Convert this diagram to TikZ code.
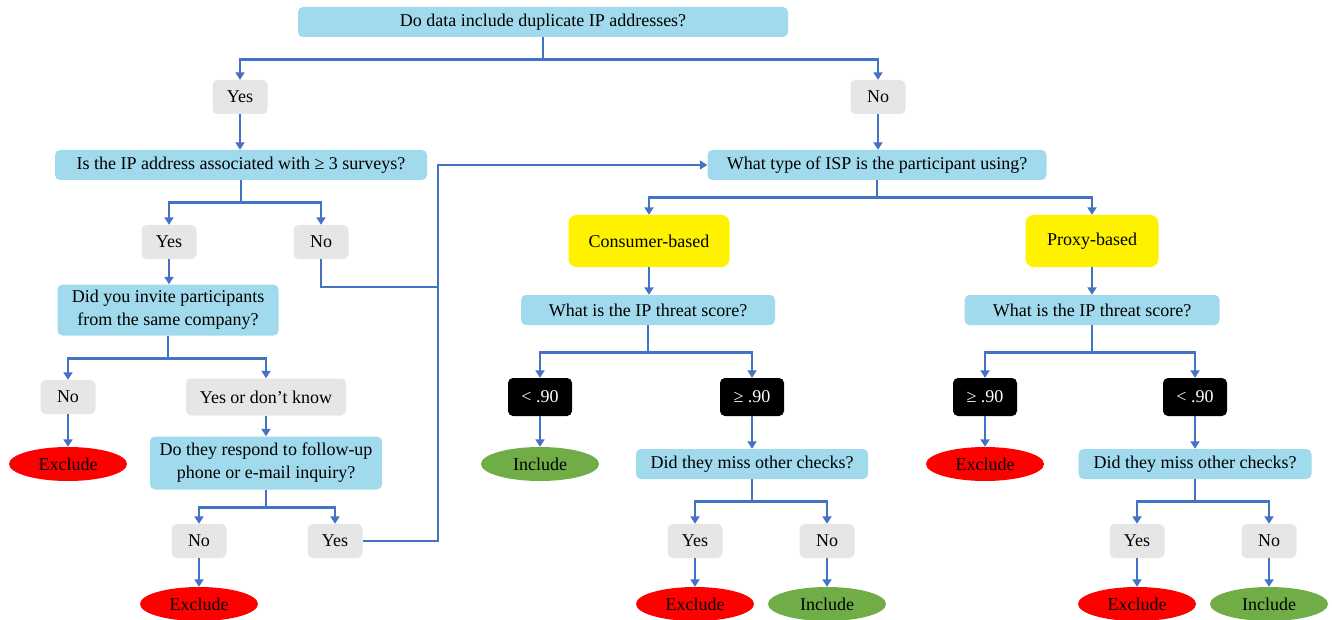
\documentclass[tikz,border=0pt]{standalone}
\usepackage{fontspec}
\setmainfont{Liberation Serif}
\usepackage{xcolor}
\usepackage{tikz}
\usetikzlibrary{arrows.meta,shapes.geometric}
\definecolor{qblue}{RGB}{160,218,236}
\definecolor{ansgray}{RGB}{231,230,230}
\definecolor{linkblue}{RGB}{68,114,196}
\definecolor{inclgreen}{RGB}{112,173,71}
\begin{document}
\begin{tikzpicture}[x=1pt,y=-1pt,
  font=\fontsize{18}{23}\selectfont,
  qbox/.style={fill=qblue, rounded corners=5pt, minimum height=30pt, inner sep=2pt, align=center},
  ans/.style={fill=ansgray, rounded corners=5pt, minimum width=55pt, minimum height=34pt, inner sep=2pt},
  isptype/.style={fill=yellow, rounded corners=8pt, minimum height=52pt},
  score/.style={fill=black, text=white, rounded corners=5pt, minimum width=64pt, minimum height=38pt},
  excl/.style={ellipse, fill=red, minimum width=118pt, minimum height=34pt, inner sep=0pt},
  incl/.style={ellipse, fill=inclgreen, minimum width=118pt, minimum height=34pt, inner sep=0pt},
  line/.style={draw=linkblue, line width=2.7pt},
  link/.style={line, -{Triangle[length=7.5pt,width=9pt]}}]
  \useasboundingbox (0,0) rectangle (1332,620);
  % Duplicate IP check
  \node[qbox, minimum width=490pt] (q1) at (543,22) {Do data include duplicate IP addresses?};
  \node[ans] (y1) at (240,97) {Yes};
  \node[ans] (n1) at (878,97) {No};
  \node[qbox, minimum width=372pt] (q2) at (241,165) {Is the IP address associated with ≥ 3 surveys?};
  \node[qbox, minimum width=339pt] (isp) at (877,165) {What type of ISP is the participant using?};
  % Left branch
  \node[ans] (y2) at (169,242) {Yes};
  \node[ans] (n2) at (321,242) {No};
  \node[qbox, minimum width=221pt, minimum height=51pt] (q3) at (168,310) {Did you invite participants\\from the same company?};
  \node[ans] (n3) at (68,397) {No};
  \node[ans, minimum width=160pt, minimum height=37pt] (y3) at (266,397) {Yes or don’t know};
  \node[excl] (ex1) at (68,464) {Exclude};
  \node[qbox, minimum width=232pt, minimum height=53pt] (q4) at (266,463) {Do they respond to follow-up\\phone or e-mail inquiry?};
  \node[ans] (n4) at (199,541) {No};
  \node[ans] (y4) at (335,541) {Yes};
  \node[excl] (ex2) at (199,604) {Exclude};
  \coordinate (join) at (438,287);
  \coordinate (rail) at (438,541);
  % Consumer-based ISP
  \node[isptype, minimum width=161pt] (cons) at (649,241) {Consumer-based};
  \node[qbox, minimum width=254pt] (q5) at (648,310) {What is the IP threat score?};
  \node[score] (lo1) at (540,397) {< .90};
  \node[score] (hi1) at (752,397) {≥ .90};
  \node[incl] (in1) at (540,464) {Include};
  \node[qbox, minimum width=232pt] (q7) at (752,464) {Did they miss other checks?};
  \node[ans] (y5) at (695,541) {Yes};
  \node[ans] (n5) at (827,541) {No};
  \node[excl] (ex3) at (695,604) {Exclude};
  \node[incl] (in2) at (827,604) {Include};
  % Proxy-based ISP
  \node[isptype, minimum width=133pt] (prox) at (1092,241) {Proxy-based};
  \node[qbox, minimum width=255pt] (q6) at (1092,310) {What is the IP threat score?};
  \node[score] (hi2) at (985,397) {≥ .90};
  \node[score] (lo2) at (1195,397) {< .90};
  \node[excl] (ex4) at (985,464) {Exclude};
  \node[qbox, minimum width=233pt] (q8) at (1195,464) {Did they miss other checks?};
  \node[ans] (y6) at (1137,541) {Yes};
  \node[ans] (n6) at (1269,541) {No};
  \node[excl] (ex5) at (1137,604) {Exclude};
  \node[incl] (in3) at (1269,604) {Include};
  % Connectors
  \draw[link] (q1.south) -- ++(0,22) -| (y1.north);
  \draw[link] (q1.south) -- ++(0,22) -| (n1.north);
  \draw[link] (y1.south) -- (y1.south |- q2.north);
  \draw[link] (n1.south) -- (n1.south |- isp.north);
  \draw[link] (q2.south) -- ++(0,22) -| (y2.north);
  \draw[link] (q2.south) -- ++(0,22) -| (n2.north);
  \draw[link] (y2.south) -- (y2.south |- q3.north);
  \draw[line] (n2.south) |- (join);
  \draw[link] (q3.south) -- ++(0,23) -| (n3.north);
  \draw[link] (q3.south) -- ++(0,23) -| (y3.north);
  \draw[link] (n3.south) -- (ex1.north);
  \draw[link] (y3.south) -- (q4.north);
  \draw[link] (q4.south) -- ++(0,18) -| (n4.north);
  \draw[link] (q4.south) -- ++(0,18) -| (y4.north);
  \draw[link] (n4.south) -- (ex2.north);
  \draw[link] (y4.east) -- (rail) |- (isp.west);
  \draw[link] (isp.south) -- ++(0,17) -| (cons.north);
  \draw[link] (isp.south) -- ++(0,17) -| (prox.north);
  \draw[link] (cons.south) -- (cons.south |- q5.north);
  \draw[link] (prox.south) -- (q6.north);
  \draw[link] (q5.south) -- ++(0,27) -| (lo1.north);
  \draw[link] (q5.south) -- ++(0,27) -| (hi1.north);
  \draw[link] (lo1.south) -- (in1.north);
  \draw[link] (hi1.south) -- (q7.north);
  \draw[link] (q7.south) -- ++(0,22) -| (y5.north);
  \draw[link] (q7.south) -- ++(0,22) -| (n5.north);
  \draw[link] (y5.south) -- (ex3.north);
  \draw[link] (n5.south) -- (in2.north);
  \draw[link] (q6.south) -- ++(0,27) -| (hi2.north);
  \draw[link] (q6.south) -- ++(0,27) -| (lo2.north);
  \draw[link] (hi2.south) -- (ex4.north);
  \draw[link] (lo2.south) -- (q8.north);
  \draw[link] (q8.south) -- ++(0,22) -| (y6.north);
  \draw[link] (q8.south) -- ++(0,22) -| (n6.north);
  \draw[link] (y6.south) -- (ex5.north);
  \draw[link] (n6.south) -- (in3.north);
\end{tikzpicture}
\end{document}
